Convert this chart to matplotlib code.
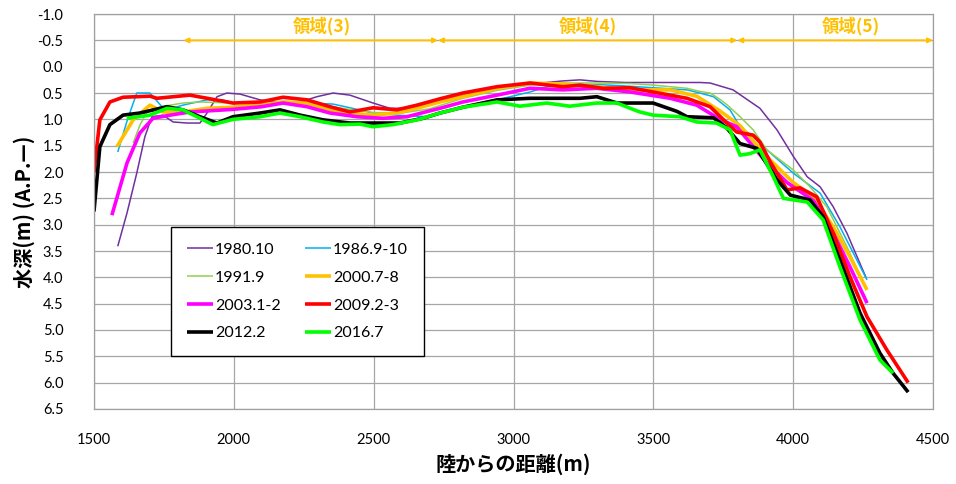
import numpy as np
import matplotlib
matplotlib.use('Agg')
import matplotlib.pyplot as plt

plt.rcParams['font.family'] = ['Lato', 'Noto Sans CJK JP', 'DejaVu Sans']

# survey series: distance from shore (m) vs depth (m, A.P.)
labels = ['1980.10', '1986.9-10', '1991.9', '2000.7-8', '2003.1-2', '2009.2-3', '2012.2', '2016.7']

x_1980 = [1585, 1618, 1653, 1682, 1707, 1747, 1783, 1833, 1879, 1904, 1940, 1975, 2022, 2094, 2176, 2237,
          2297, 2355, 2415, 2498, 2558, 2641, 2712, 2819, 2941, 3059, 3177, 3238, 3300, 3400, 3500, 3600,
          3667, 3703, 3785, 3881, 3942, 4000, 4050, 4096, 4143, 4192, 4260]
y_1980 = [3.41, 2.78, 2.02, 1.33, 0.95, 0.92, 1.05, 1.07, 1.07, 0.88, 0.57, 0.50, 0.52, 0.63, 0.69, 0.67,
          0.57, 0.50, 0.54, 0.69, 0.79, 0.79, 0.69, 0.55, 0.42, 0.33, 0.27, 0.25, 0.28, 0.30, 0.30, 0.30,
          0.30, 0.31, 0.44, 0.79, 1.20, 1.70, 2.09, 2.28, 2.66, 3.16, 4.00]

x_1986 = [1585, 1620, 1653, 1700, 1743, 1761, 1818, 1904, 1961, 1997, 2094, 2176, 2262, 2355, 2415, 2498,
          2583, 2655, 2701, 2819, 2941, 3059, 3119, 3200, 3300, 3381, 3500, 3620, 3667, 3715, 3774, 3810,
          3857, 3906, 4000, 4096, 4167, 4264]
y_1986 = [1.62, 1.00, 0.50, 0.50, 0.76, 0.82, 0.73, 0.63, 0.63, 0.69, 0.70, 0.67, 0.69, 0.71, 0.78, 0.88,
          0.92, 0.94, 0.95, 0.77, 0.63, 0.48, 0.38, 0.34, 0.34, 0.36, 0.40, 0.44, 0.50, 0.57, 0.82, 1.14,
          1.33, 1.58, 2.02, 2.40, 3.04, 4.05]

x_1991 = [1640, 1665, 1693, 1750, 1818, 1879, 1997, 2100, 2200, 2300, 2400, 2500, 2600, 2700, 2819, 2941,
          3059, 3177, 3298, 3417, 3500, 3620, 3667, 3703, 3738, 3763, 3810, 3857, 3906, 4000, 4060, 4120,
          4192, 4257]
y_1991 = [1.45, 1.10, 0.83, 0.75, 0.69, 0.67, 0.69, 0.70, 0.68, 0.72, 0.80, 0.87, 0.88, 0.80, 0.60, 0.45,
          0.35, 0.31, 0.31, 0.32, 0.35, 0.41, 0.47, 0.50, 0.62, 0.72, 0.95, 1.20, 1.58, 1.96, 2.28, 2.66,
          3.42, 4.18]

x_2000 = [1582, 1640, 1700, 1747, 1818, 1904, 1997, 2100, 2176, 2262, 2344, 2415, 2498, 2583, 2660, 2737,
          2819, 2941, 3059, 3177, 3298, 3417, 3560, 3655, 3738, 3810, 3906, 4000, 4072, 4143, 4203, 4264]
y_2000 = [1.52, 1.01, 0.73, 0.86, 0.86, 0.79, 0.77, 0.72, 0.67, 0.69, 0.82, 0.88, 0.92, 0.88, 0.78, 0.67,
          0.57, 0.41, 0.31, 0.33, 0.38, 0.44, 0.44, 0.56, 0.84, 1.12, 1.71, 2.20, 2.47, 3.04, 3.61, 4.24]

x_2003 = [1564, 1618, 1664, 1711, 1772, 1843, 1997, 2100, 2176, 2262, 2344, 2440, 2533, 2619, 2737, 2819,
          2941, 3059, 3177, 3298, 3417, 3560, 3655, 3738, 3798, 3906, 3978, 4072, 4143, 4203, 4264]
y_2003 = [2.82, 1.83, 1.26, 0.98, 0.92, 0.86, 0.81, 0.76, 0.69, 0.76, 0.88, 0.95, 0.98, 0.95, 0.79, 0.67,
          0.54, 0.41, 0.44, 0.41, 0.48, 0.60, 0.73, 1.00, 1.14, 1.83, 2.20, 2.54, 3.16, 3.80, 4.49]

x_2009 = [1500, 1521, 1557, 1604, 1700, 1725, 1843, 1997, 2094, 2176, 2262, 2344, 2415, 2498, 2583, 2655,
          2737, 2819, 2941, 3059, 3177, 3238, 3320, 3417, 3499, 3620, 3703, 3763, 3798, 3857, 3881, 3917,
          3978, 4024, 4084, 4143, 4203, 4264, 4335, 4411]
y_2009 = [2.00, 1.01, 0.67, 0.58, 0.56, 0.60, 0.54, 0.69, 0.67, 0.58, 0.63, 0.76, 0.86, 0.78, 0.82, 0.73,
          0.61, 0.50, 0.38, 0.31, 0.38, 0.35, 0.41, 0.40, 0.48, 0.60, 0.76, 1.07, 1.24, 1.30, 1.43, 1.80,
          2.34, 2.30, 2.47, 3.16, 3.99, 4.75, 5.38, 6.00]

x_2012 = [1500, 1521, 1557, 1604, 1664, 1761, 1818, 1879, 1940, 1997, 2094, 2165, 2237, 2319, 2415, 2498,
          2594, 2676, 2737, 2819, 2941, 3059, 3238, 3298, 3370, 3499, 3585, 3620, 3715, 3760, 3810, 3870,
          3942, 3990, 4060, 4107, 4167, 4239, 4310, 4357, 4411]
y_2012 = [2.75, 1.52, 1.10, 0.92, 0.88, 0.76, 0.82, 0.95, 1.07, 0.95, 0.88, 0.82, 0.92, 1.01, 1.07, 1.07,
          1.07, 0.98, 0.88, 0.77, 0.63, 0.60, 0.60, 0.57, 0.69, 0.69, 0.85, 0.95, 0.97, 1.15, 1.46, 1.55,
          2.15, 2.44, 2.53, 2.85, 3.67, 4.68, 5.44, 5.82, 6.18]

x_2016 = [1617, 1700, 1761, 1818, 1868, 1925, 1997, 2094, 2165, 2237, 2319, 2380, 2451, 2498, 2569, 2655,
          2737, 2819, 2941, 3023, 3119, 3201, 3298, 3370, 3417, 3452, 3499, 3595, 3655, 3726, 3774, 3810,
          3846, 3881, 3929, 3965, 4050, 4107, 4167, 4239, 4310, 4357]
y_2016 = [0.98, 0.92, 0.79, 0.82, 0.95, 1.10, 1.00, 0.95, 0.88, 0.95, 1.05, 1.10, 1.09, 1.14, 1.10, 1.01,
          0.88, 0.77, 0.67, 0.75, 0.69, 0.75, 0.69, 0.69, 0.79, 0.86, 0.92, 0.95, 1.05, 1.07, 1.20, 1.68,
          1.65, 1.58, 2.09, 2.50, 2.57, 2.91, 3.80, 4.81, 5.57, 5.82]

xs = [x_1980, x_1986, x_1991, x_2000, x_2003, x_2009, x_2012, x_2016]
ys = [y_1980, y_1986, y_1991, y_2000, y_2003, y_2009, y_2012, y_2016]
colors = ['#7030A0', '#00B0F0', '#92D050', '#FFC000', '#FF00FF', '#FF0000', '#000000', '#00FF00']
widths = [1.1, 1.1, 1.1, 2.6, 2.6, 2.6, 2.6, 2.6]

# zone markers along the top
zone_edges = [1820, 2730, 3800, 4500]
zone_names = ['領域(3)', '領域(4)', '領域(5)']
zone_text_x = [2315, 3265, 4205]

fig = plt.figure(figsize=(9.56, 4.84), dpi=100)
ax = fig.add_axes([0.0983, 0.155, 0.8777, 0.816])

lines = []
for x, y, c, w, lab in zip(xs, ys, colors, widths, labels):
    ln, = ax.plot(x, y, color=c, lw=w, label=lab, solid_joinstyle='round', solid_capstyle='butt')
    lines.append(ln)

ax.set_xlim(1500, 4500)
ax.set_ylim(6.5, -1.0)
ax.set_xticks(np.arange(1500, 4501, 500))
ax.set_yticks(np.arange(-1.0, 6.51, 0.5))
ax.set_yticklabels([f'{v:.1f}' for v in np.arange(-1.0, 6.51, 0.5)])
ax.grid(True, color='#A6A6A6', lw=0.9)
ax.set_axisbelow(True)
ax.tick_params(length=0, labelsize=10.5)
ax.tick_params(axis='x', pad=17)
ax.tick_params(axis='y', pad=22)
for s in ax.spines.values():
    s.set_color('#A0A0A0')
    s.set_linewidth(0.9)

ax.set_xlabel('陸からの距離(m)', family=['Noto Sans CJK JP'], fontweight='bold', fontsize=14.5, labelpad=5)
ax.set_ylabel('水深(m) (A.P.—)', family=['Noto Sans CJK JP'], fontweight='bold', fontsize=14.5, labelpad=2)

for a, b in zip(zone_edges[:-1], zone_edges[1:]):
    ax.annotate('', xy=(b, -0.5), xytext=(a, -0.5),
                arrowprops=dict(arrowstyle='<|-|>', color='#FFC000', lw=1.4,
                                mutation_scale=7, shrinkA=0, shrinkB=0))
for tx, name in zip(zone_text_x, zone_names):
    ax.text(tx, -0.77, name, color='#FFC000', fontsize=12.5, fontweight='bold',
            family=['Noto Sans CJK JP'], ha='center', va='center')

order = [0, 2, 4, 6, 1, 3, 5, 7]
leg = ax.legend([lines[i] for i in order], [labels[i] for i in order], ncol=2,
                loc='upper left', bbox_to_anchor=(0.092, 0.461), fontsize=11.5,
                frameon=True, fancybox=False, edgecolor='black', framealpha=1,
                handlelength=1.65, handletextpad=0.1, columnspacing=1.5,
                labelspacing=0.85, borderpad=1.0, borderaxespad=0)
leg.get_frame().set_linewidth(1.0)

fig.savefig('out.png', dpi=100)
